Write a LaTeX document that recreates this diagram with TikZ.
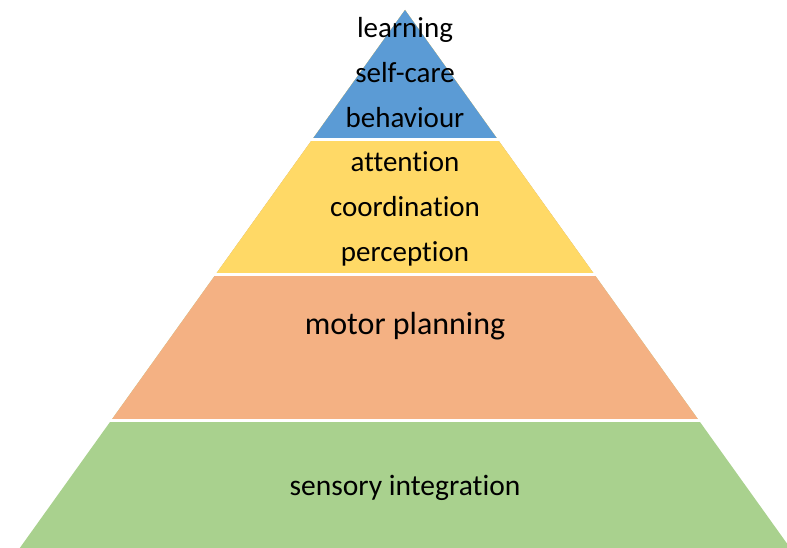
\documentclass[tikz,border=0pt]{standalone}
\usepackage{fontspec}
\setmainfont[Ligatures={NoCommon}]{Carlito}
\usetikzlibrary{positioning}
\definecolor{layerblue}{HTML}{5B9BD5}
\definecolor{layeryellow}{HTML}{FFD966}
\definecolor{layerorange}{HTML}{F4B183}
\definecolor{layergreen}{HTML}{A9D18E}
\tikzset{
  lbl/.style={font=\fontsize{29}{35}\selectfont, inner sep=0pt, text height=30pt, text depth=14.5pt},
  biglbl/.style={lbl, font=\fontsize{32}{38}\selectfont}
}

\begin{document}
\begin{tikzpicture}[x=1pt,y=-1pt]
\useasboundingbox (0,0) rectangle (787,548);
\coordinate (apex) at (405,10);
% layers, bottom first
\foreach \col/\y in {layergreen/548,layerorange/420,layeryellow/274,layerblue/139.5}
	\fill[\col] (apex) -- ({405-(\y-10)*0.716},\y) -- ({405+(\y-10)*0.716},\y) -- cycle;
% white gaps between the layers
\foreach \y in {139.5,274,420}
	\draw[white, line width=3pt] ({400-(\y-10)*0.716},\y) -- ({410+(\y-10)*0.716},\y);

\node[lbl] (learning) at (405,30) {learning};
\node[lbl, below=0pt of learning] (selfcare) {self-care};
\node[lbl, below=0pt of selfcare] (behaviour) {behaviour};

\node[lbl] (attention) at (405,164) {attention};
\node[lbl, below=0pt of attention] (coordination) {coordination};
\node[lbl, below=0pt of coordination] (perception) {perception};

\node[biglbl] (motor) at (405,327) {motor planning};
\node[lbl, font=\fontsize{29.5}{35}\selectfont] (sensory) at (405,488) {sensory integration};
\end{tikzpicture}
\end{document}
